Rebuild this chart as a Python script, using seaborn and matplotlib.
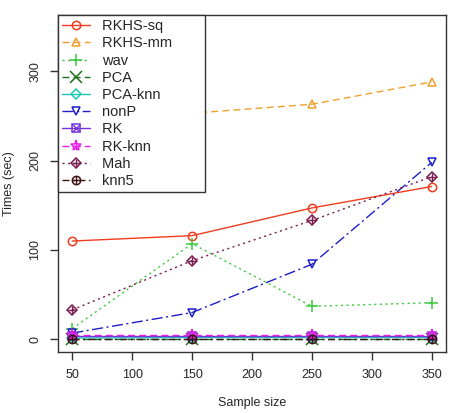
import numpy as np
import pandas as pd
import seaborn as sns
from matplotlib import pyplot as plt
from matplotlib.lines import Line2D

sizes = [50, 150, 250, 350]
rkhs_sq = [110, 116, 147, 171]
rkhs_mm = [349, 253, 263, 288]
wav = [12, 107, 37, 41]
pca = [0.5, 0.5, 0.5, 0.5]
pca_knn = [1.5, 2, 2, 2]
nonp = [7, 30, 84, 198]
rk = [4, 4, 4, 4]
rk_knn = [5, 5, 5, 5]
mah = [33, 88, 133, 182]
knn5 = [0, 0, 0, 0]

nombres = ["RKHS-sq", "RKHS-mm", "wav", "PCA", "PCA-knn", "nonP", "RK", "RK-knn", "Mah", "knn5"]
valores = [rkhs_sq, rkhs_mm, wav, pca, pca_knn, nonp, rk, rk_knn, mah, knn5]
colores = ["#f03c1e", "#f0a02d", "#3cc83c", "#1e6e1e", "#1ec8b4", "#1e1ec8",
           "#7832dc", "#e61ee6", "#781e50", "#3c1414"]
estilos = ["-", (0, (5, 3)), (0, (1.5, 2.5)), (0, (5, 3)), "-", (0, (8, 2.5, 1.5, 2.5)),
           "-", (0, (5, 3)), (0, (1.5, 2.5)), (0, (5, 2.5, 1.5, 2.5))]
marcadores = ["o", "^", "+", "x", "D", "v", "s", "*", "D", "o"]
# segunda capa para simbolos compuestos (tipo pch 7, 9, 10)
extra = [None, None, None, None, None, None, "x", "+", "+", "+"]

sns.set_style("white")
plt.rcParams['font.family'] = ['Liberation Sans', 'DejaVu Sans']

fig = plt.figure(figsize=(4.52, 4.13), dpi=100)
ax = fig.add_axes([0.128, 0.148, 0.859, 0.816])

df = pd.DataFrame({"n": sizes})
for i in range(len(nombres)):
	df[nombres[i]] = valores[i]
	ms = 6
	if marcadores[i] in ("+", "x", "*"):
		ms = 8
	if marcadores[i] == "D":
		ms = 5.5
	sns.lineplot(data=df, x="n", y=nombres[i], ax=ax, color=colores[i], linewidth=1,
	             linestyle=estilos[i], marker=marcadores[i], markersize=ms,
	             markerfacecolor="none", markeredgecolor=colores[i], markeredgewidth=1.1,
	             label=nombres[i])
	if extra[i] is not None:
		ax.plot(df["n"], df[nombres[i]], linestyle="none", marker=extra[i], markersize=6,
		        color=colores[i], markeredgewidth=1.0)

# leyenda con los simbolos combinados
handles, labels = ax.get_legend_handles_labels()
nuevos = []
for i in range(len(nombres)):
	h = handles[i]
	if extra[i] is not None:
		h2 = Line2D([], [], linestyle="none", marker=extra[i], markersize=6,
		            color=colores[i], markeredgewidth=1.0)
		nuevos.append((h, h2))
	else:
		nuevos.append(h)
etiquetas = [l + "\u00a0" * 7 for l in labels]
leg = ax.legend(nuevos, etiquetas, loc="upper left", bbox_to_anchor=(0, 1), borderaxespad=0,
                fancybox=False, edgecolor="#333333", framealpha=1, fontsize=10.5,
                handlelength=1.9, labelspacing=0.22, borderpad=0.3, handletextpad=0.8)
leg.get_frame().set_linewidth(1)

ax.set_xlim(38, 362)
ax.set_ylim(-14, 363)
ax.set_xticks([50, 100, 150, 200, 250, 300, 350])
ax.set_yticks([0, 100, 200, 300])
ax.set_yticklabels(["0", "100", "200", "300"], rotation=90, va="center")
ax.tick_params(axis="both", direction="out", length=6, width=1, color="#333333",
               labelsize=9, bottom=True, left=True, pad=6)
for s in ax.spines.values():
	s.set_color("#333333")
	s.set_linewidth(1)
ax.set_xlabel("Sample size", fontsize=9, labelpad=12)
ax.set_ylabel("Times (sec)", fontsize=9, labelpad=10)

fig.savefig("out.png", dpi=100)
